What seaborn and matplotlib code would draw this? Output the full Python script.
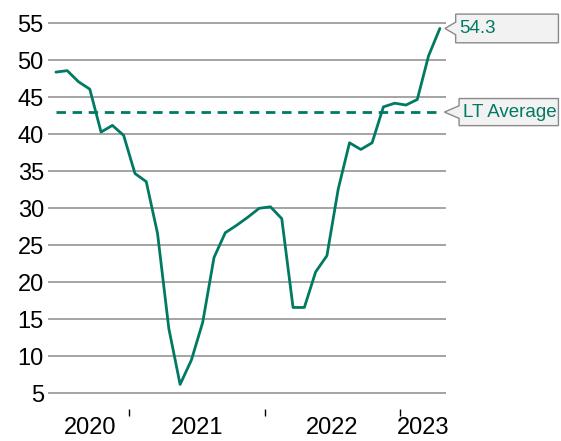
import numpy as np
import pandas as pd
import matplotlib
matplotlib.use("Agg")
import matplotlib.pyplot as plt
from matplotlib.patches import Polygon
import seaborn as sns

# monthly index values, Jun 2020 - Apr 2023
values = [48.4, 48.6, 47.1, 46.1, 40.3, 41.2, 39.85, 34.7, 33.6, 26.6,
          13.75, 6.2, 9.5, 14.6, 23.35, 26.7, 27.7, 28.8, 30.0, 30.2,
          28.6, 16.6, 16.6, 21.4, 23.6, 32.6, 38.85, 37.95, 38.85, 43.7,
          44.2, 43.95, 44.7, 50.6, 54.3]
lt_average = 43.0
years = ["2020", "2021", "2022", "2023"]
months_per_year = [7, 12, 12, 4]

TEAL = "#007a62"
GRID = "#8c8c8c"

df = pd.DataFrame({"pos": np.arange(len(values)), "value": values})

sns.set_style("white")
plt.rcParams["font.family"] = ["Liberation Sans", "DejaVu Sans"]

fig = plt.figure(figsize=(5.61, 4.41), dpi=100)
W, H = 561, 441
ax = fig.add_axes([48 / W, (H - 409) / H, (445.5 - 48) / W, (409 - 19.2) / H])

sns.lineplot(data=df, x="pos", y="value", ax=ax, color=TEAL, linewidth=2.0)
ax.plot([0, len(values) - 1], [lt_average, lt_average], color=TEAL,
         linewidth=2.0, dashes=(3.4, 2.4))

ax.set_xlim(-0.7, 34.5)
ax.set_ylim(2.88, 55.55)
ax.set_yticks(range(5, 60, 5))
ax.yaxis.grid(True, color=GRID, linewidth=1.1)
ax.set_axisbelow(True)
for s in ax.spines.values():
    s.set_visible(False)
ax.set_xlabel("")
ax.set_ylabel("")
ax.tick_params(axis="y", length=0, labelsize=17, pad=3, labelcolor="black")

# year boundaries as ticks, year names centred on each block
edges = np.cumsum([0] + months_per_year) - 0.5
ax.set_xticks(edges[1:-1])
ax.set_xticklabels([])
ax.set_xticks((edges[:-1] + edges[1:]) / 2, minor=True)
ax.set_xticklabels(years, minor=True)
ax.tick_params(axis="x", which="major", bottom=True, length=5, width=1,
               color="black", direction="out")
ax.tick_params(axis="x", which="minor", bottom=True, length=0, labelsize=17,
               pad=5.5, labelcolor="black")


def callout(ax, x_tip, y, text, left, right, half_h):
    pts = [(x_tip, y), (left, y + 0.85), (left, y + half_h), (right, y + half_h),
           (right, y - half_h), (left, y - half_h), (left, y - 0.85)]
    ax.add_patch(Polygon(pts, closed=True, facecolor="#f2f2f2",
                         edgecolor="#8a8a8a", linewidth=1.0, clip_on=False,
                         zorder=5))
    ax.text(left + 0.35, y, text, color=TEAL, fontsize=13.5, va="center",
            ha="left", clip_on=False, zorder=6)


callout(ax, 34.45, values[-1], f"{values[-1]:.1f}", 35.4, 44.5, 1.94)
callout(ax, 34.4, lt_average, "LT Average", 35.7, 44.5, 1.83)

fig.savefig("out.png", dpi=100)
